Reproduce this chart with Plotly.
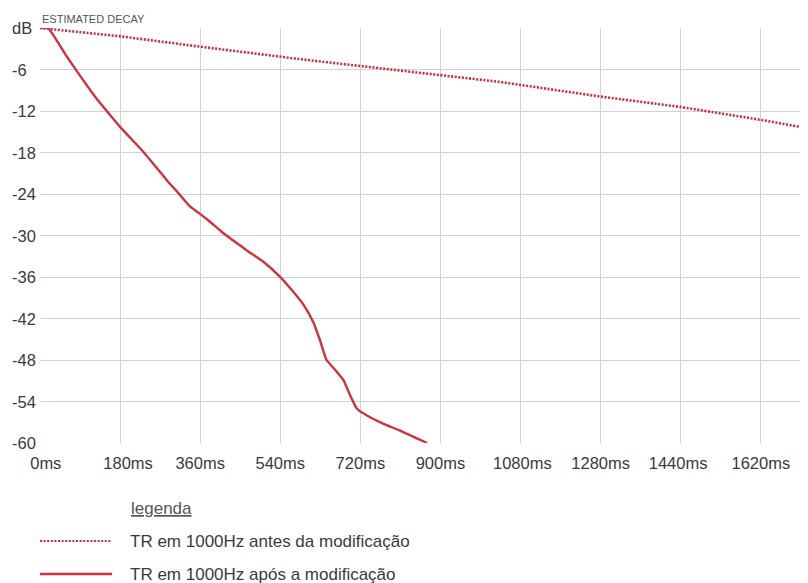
import plotly.graph_objects as go

# ---------------- data ----------------
before_ms = [0, 180, 360, 584, 1034, 1258, 1438, 1622, 1726]
before_db = [0, -1.2, -2.7, -4.5, -7.8, -9.9, -11.4, -13.3, -14.5]

after_ms = [0, 18, 60, 127, 150, 180, 232, 285, 310, 337, 358, 378, 408, 438, 468,
            502, 539, 562, 592, 614, 629, 644, 663, 682, 697, 712, 734, 771, 809, 870]
after_db = [0, 0, -4.1, -10.2, -12.0, -14.3, -17.9, -22.0, -23.8, -25.8, -26.8, -27.8,
            -29.45, -30.9, -32.3, -33.8, -35.95, -37.6, -40.0, -42.5, -45.1, -48.0,
            -49.4, -50.9, -53.1, -55.0, -56.0, -57.2, -58.2, -60.0]

grid_ms = [0, 180, 360, 540, 720, 900, 1080, 1260, 1440, 1620]
xtick_vals = [13, 198, 360, 540, 720, 900, 1084, 1260, 1434, 1620]
xtick_text = ["0ms", "180ms", "360ms", "540ms", "720ms", "900ms", "1080ms",
              "1280ms", "1440ms", "1620ms"]
ytick_vals = [0, -6, -12, -18, -24, -30, -36, -42, -48, -54, -60]
ytick_text = ["dB", "-6", "-12", "-18", "-24", "-30", "-36", "-42", "-48", "-54", "-60"]

chart_title = "ESTIMATED DECAY"
legend_title = "legenda"
series_names = ["TR em 1000Hz antes da modificação", "TR em 1000Hz após a modificação"]

# ---------------- layout constants ----------------
OFF = 8  # default page body margin
W, H = 800, 575
ML, MR, MT, MB = 32, 0, 20, 140
PW, PH = W - ML - MR, H - MT - MB
FONT = "Liberation Sans, Arial, sans-serif"
TXT = "#3a3a3a"
GRID = "#d2d2d2"
RED_DOT = "#c42f3b"
RED = "#d0313f"


def px_x(px):  # window pixel -> paper
    return (px - OFF - ML) / PW


def px_y(py):
    return (H - MB - (py - OFF)) / PH


fig = go.Figure()
fig.add_trace(go.Scatter(x=before_ms, y=before_db, mode="lines", name=series_names[0],
                         line=dict(color=RED_DOT, width=2.6, dash="2px,1.6px"),
                         showlegend=False, hoverinfo="skip"))
fig.add_trace(go.Scatter(x=after_ms, y=after_db, mode="lines", name=series_names[1],
                         line=dict(color=RED, width=2.4, shape="spline", smoothing=0.4),
                         showlegend=False, hoverinfo="skip"))

annotations = []
for v, t in zip(ytick_vals, ytick_text):
    annotations.append(dict(x=0, xref="paper", xshift=-30, y=v, yref="y", text=t,
                            xanchor="left", yanchor="middle", showarrow=False,
                            font=dict(family=FONT, size=16.5, color=TXT)))
annotations.append(dict(x=px_x(40), xref="paper", y=px_y(19), yref="paper",
                        text=chart_title, xanchor="left", yanchor="middle",
                        showarrow=False, font=dict(family=FONT, size=11, color="#555555")))
annotations.append(dict(x=px_x(129), xref="paper", y=px_y(508), yref="paper",
                        text="<u>" + legend_title + "</u>", xanchor="left", yanchor="middle",
                        showarrow=False, font=dict(family=FONT, size=17, color="#555555")))
for name, py in zip(series_names, [541, 574]):
    annotations.append(dict(x=px_x(128), xref="paper", y=px_y(py), yref="paper",
                            text=name, xanchor="left", yanchor="middle", showarrow=False,
                            font=dict(family=FONT, size=17, color=TXT)))

shapes = [
    dict(type="line", xref="paper", yref="paper", x0=px_x(40), x1=px_x(112),
         y0=px_y(541), y1=px_y(541), line=dict(color=RED_DOT, width=2.2, dash="2px,1.6px")),
    dict(type="line", xref="paper", yref="paper", x0=px_x(40), x1=px_x(112),
         y0=px_y(574), y1=px_y(574), line=dict(color=RED, width=2.6)),
]

fig.update_layout(
    width=W, height=H, margin=dict(l=ML, r=MR, t=MT, b=MB, pad=0),
    paper_bgcolor="white", plot_bgcolor="white",
    showlegend=False,
    font=dict(family=FONT, size=16.5, color=TXT),
    annotations=annotations, shapes=shapes,
    xaxis=dict(range=[0, 1726], tickmode="array", tickvals=xtick_vals, ticktext=xtick_text,
               showgrid=False, zeroline=False, showline=False, ticks="",
               ticklabelstandoff=8,
               tickfont=dict(family=FONT, size=16.5, color=TXT),
               minor=dict(tickmode="array", tickvals=grid_ms, showgrid=True,
                          gridcolor=GRID, gridwidth=1, ticks="")),
    yaxis=dict(range=[-60, 0], tickmode="array", tickvals=ytick_vals, showticklabels=False,
               showgrid=True, gridcolor=GRID, gridwidth=1, zeroline=False,
               showline=False, ticks=""),
)

fig.write_html("out.html")
